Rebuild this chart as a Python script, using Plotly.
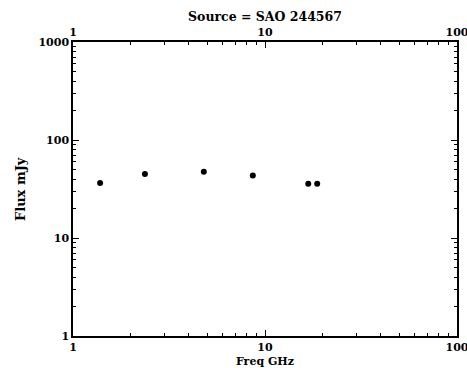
import plotly.graph_objects as go

freq_ghz = [1.384, 2.37, 4.8, 8.64, 16.8, 18.7]
flux_mjy = [36.5, 45.0, 47.5, 43.5, 35.8, 35.8]

x_major = [1, 10, 100]
x_minor = [m * d for d in (1, 10) for m in range(2, 10)]
y_major = [1, 10, 100, 1000]
y_minor = [m * d for d in (1, 10, 100) for m in range(2, 10)]

FONT = dict(family="DejaVu Serif", size=11, color="black", weight="bold")

fig = go.Figure()
fig.add_trace(go.Scatter(x=freq_ghz, y=flux_mjy, mode="markers",
                         marker=dict(color="black", size=6, line=dict(width=0)),
                         showlegend=False))
# invisible trace for mirrored axes
fig.add_trace(go.Scatter(x=[1], y=[1], xaxis="x2", yaxis="y2", mode="markers",
                         marker=dict(opacity=0), showlegend=False, hoverinfo="skip"))

common = dict(showline=True, linecolor="black", linewidth=1.5, mirror=False,
              ticks="inside", ticklen=6, tickwidth=1, tickcolor="black",
              showgrid=False, zeroline=False, tickfont=FONT,
              ticklabeloverflow="allow", automargin=False)

fig.update_layout(
    width=467, height=368,
    margin=dict(l=73, r=10, t=42, b=32, autoexpand=False),
    paper_bgcolor="white", plot_bgcolor="white",
    xaxis=dict(type="log", range=[0, 2], tickmode="array", tickvals=x_major,
               ticktext=[str(v) for v in x_major],
               minor=dict(tickmode="array", tickvals=x_minor, ticks="inside",
                          ticklen=3, tickcolor="black", showgrid=False),
               **common),
    xaxis2=dict(type="log", range=[0, 2], overlaying="x", side="top",
                tickmode="array", tickvals=x_major,
                ticktext=[str(v) for v in x_major],
                minor=dict(tickmode="array", tickvals=x_minor, ticks="inside",
                           ticklen=3, tickcolor="black", showgrid=False),
                **common),
    yaxis=dict(type="log", range=[0, 3], tickmode="array", tickvals=y_major,
               ticktext=[str(v) for v in y_major],
               minor=dict(tickmode="array", tickvals=y_minor, ticks="inside",
                          ticklen=3, tickcolor="black", showgrid=False),
               **common),
    yaxis2=dict(type="log", range=[0, 3], overlaying="y", side="right",
                tickmode="array", tickvals=y_major, showticklabels=False,
                minor=dict(tickmode="array", tickvals=y_minor, ticks="inside",
                           ticklen=3, tickcolor="black", showgrid=False),
                **common),
    title=dict(text="Source = SAO 244567", x=(73 + 457) / 2 / 467, xanchor="center",
               y=1 - 17 / 368, yanchor="middle", font=dict(FONT, size=12.5)),
    annotations=[
        dict(text="Freq GHz", xref="paper", yref="paper", x=0.5, y=-(361 - 336) / 294,
             xanchor="center", yanchor="middle", showarrow=False, font=FONT),
        dict(text="Flux mJy", xref="paper", yref="paper", x=(20 - 73) / 384, y=0.5,
             xanchor="center", yanchor="middle", showarrow=False, textangle=-90,
             font=dict(FONT, size=13)),
    ],
)

fig.write_html("out.html")
